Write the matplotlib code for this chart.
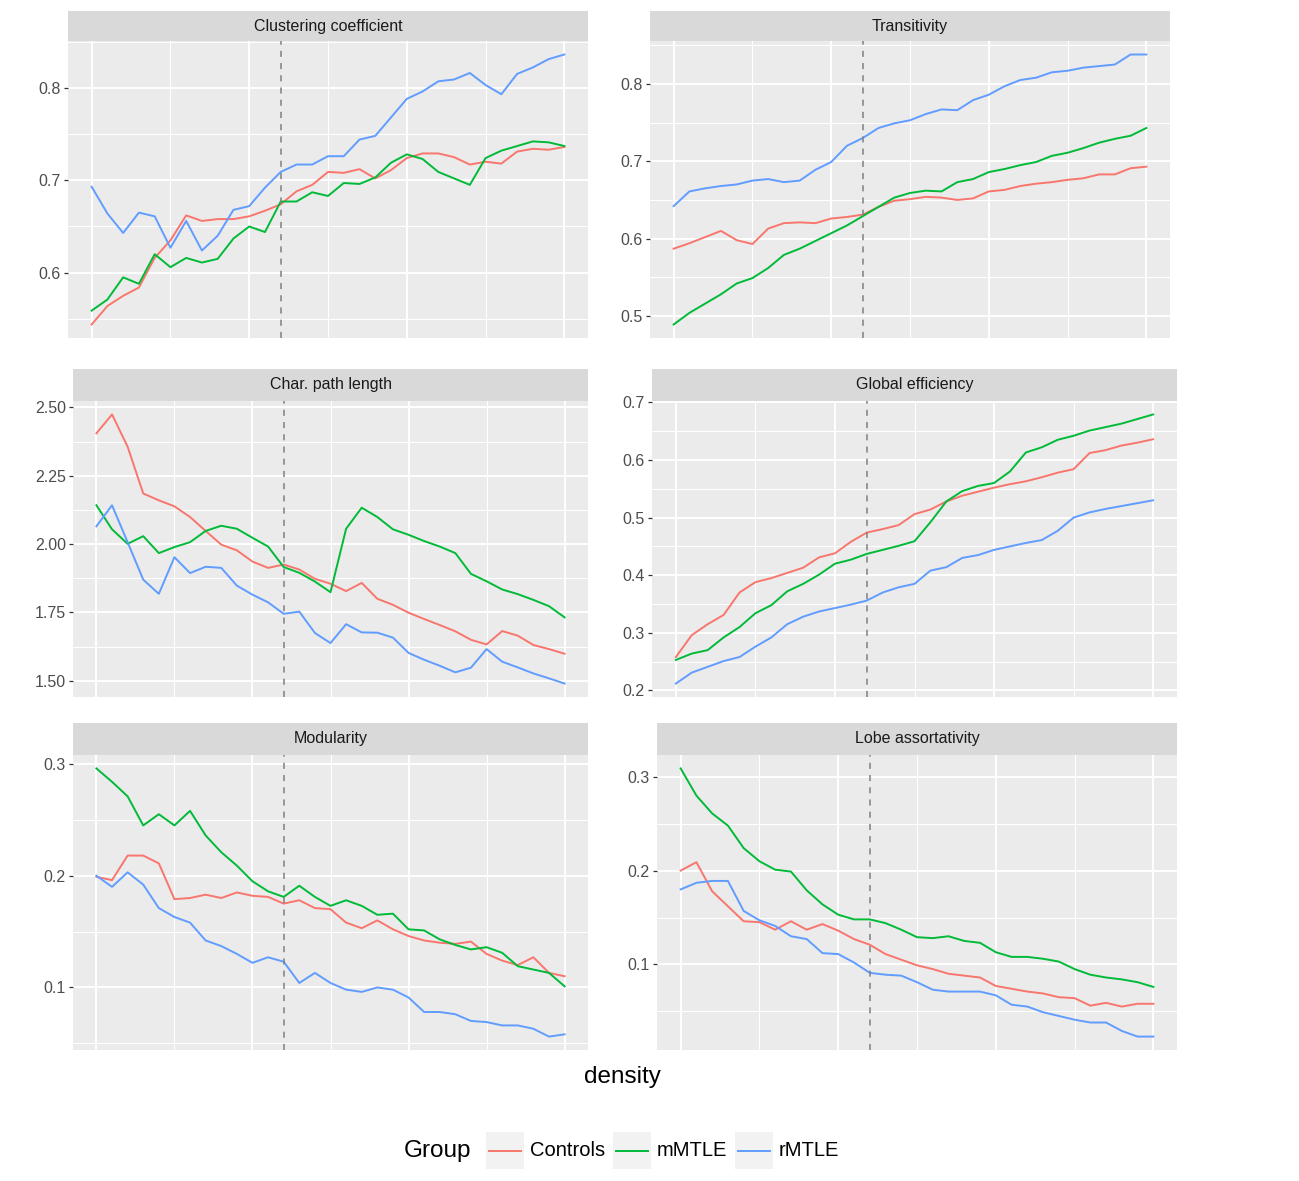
import matplotlib
matplotlib.use("Agg")
import matplotlib.pyplot as plt
from matplotlib.patches import Rectangle
from matplotlib.lines import Line2D
import numpy as np

plt.rcParams['font.family'] = ['Liberation Sans', 'DejaVu Sans']

# density steps (x axis has no labels in the original)
density = np.arange(31)
vline_at = 12

groups = ['Controls', 'mMTLE', 'rMTLE']
colors = {'Controls': '#F8766D', 'mMTLE': '#00BA38', 'rMTLE': '#619CFF'}

# ---- values ----
clust_controls = [0.544, 0.564, 0.575, 0.584, 0.616, 0.635, 0.662, 0.656, 0.658, 0.658, 0.661,
                  0.667, 0.674, 0.688, 0.695, 0.709, 0.708, 0.712, 0.702, 0.711, 0.724, 0.729,
                  0.729, 0.725, 0.717, 0.720, 0.718, 0.731, 0.734, 0.733, 0.736]
clust_mmtle = [0.559, 0.571, 0.595, 0.588, 0.620, 0.606, 0.616, 0.611, 0.615, 0.637, 0.650,
               0.644, 0.677, 0.677, 0.687, 0.683, 0.697, 0.696, 0.703, 0.719, 0.728, 0.723,
               0.709, 0.702, 0.695, 0.724, 0.732, 0.737, 0.742, 0.741, 0.737]
clust_rmtle = [0.693, 0.664, 0.643, 0.665, 0.661, 0.627, 0.656, 0.624, 0.640, 0.668, 0.672,
               0.692, 0.709, 0.717, 0.717, 0.726, 0.726, 0.744, 0.748, 0.768, 0.788, 0.796,
               0.807, 0.809, 0.816, 0.803, 0.793, 0.815, 0.822, 0.831, 0.836]

trans_controls = [0.587, 0.594, 0.602, 0.610, 0.598, 0.593, 0.613, 0.620, 0.621, 0.620, 0.626,
                  0.628, 0.631, 0.641, 0.649, 0.651, 0.654, 0.653, 0.650, 0.652, 0.661, 0.663,
                  0.668, 0.671, 0.673, 0.676, 0.678, 0.683, 0.683, 0.691, 0.693]
trans_mmtle = [0.489, 0.504, 0.516, 0.528, 0.542, 0.549, 0.562, 0.579, 0.587, 0.597, 0.607,
               0.617, 0.629, 0.641, 0.653, 0.659, 0.662, 0.661, 0.673, 0.677, 0.686, 0.690,
               0.695, 0.699, 0.707, 0.711, 0.717, 0.724, 0.729, 0.733, 0.743]
trans_rmtle = [0.642, 0.661, 0.665, 0.668, 0.670, 0.675, 0.677, 0.673, 0.675, 0.689, 0.699,
               0.720, 0.730, 0.743, 0.749, 0.753, 0.761, 0.767, 0.766, 0.779, 0.786, 0.797,
               0.805, 0.808, 0.815, 0.817, 0.821, 0.823, 0.825, 0.838, 0.838]

cpl_controls = [2.405, 2.474, 2.356, 2.185, 2.160, 2.138, 2.099, 2.048, 1.998, 1.977, 1.936,
                1.913, 1.925, 1.907, 1.873, 1.855, 1.828, 1.858, 1.800, 1.778, 1.749, 1.726,
                1.704, 1.681, 1.650, 1.633, 1.682, 1.665, 1.631, 1.616, 1.599]
cpl_mmtle = [2.142, 2.054, 2.001, 2.029, 1.967, 1.989, 2.007, 2.048, 2.067, 2.056, 2.023,
             1.991, 1.916, 1.895, 1.863, 1.824, 2.056, 2.133, 2.099, 2.054, 2.034, 2.011,
             1.991, 1.967, 1.891, 1.864, 1.834, 1.817, 1.796, 1.773, 1.732]
cpl_rmtle = [2.065, 2.142, 2.007, 1.870, 1.818, 1.952, 1.894, 1.917, 1.913, 1.848, 1.815,
             1.787, 1.745, 1.753, 1.675, 1.638, 1.707, 1.677, 1.676, 1.658, 1.602, 1.577,
             1.555, 1.531, 1.548, 1.616, 1.570, 1.549, 1.527, 1.509, 1.490]

geff_controls = [0.258, 0.296, 0.315, 0.331, 0.370, 0.388, 0.395, 0.404, 0.413, 0.431, 0.438,
                 0.458, 0.474, 0.480, 0.487, 0.506, 0.514, 0.528, 0.538, 0.545, 0.552, 0.558,
                 0.563, 0.570, 0.578, 0.584, 0.612, 0.617, 0.625, 0.630, 0.636]
geff_mmtle = [0.253, 0.264, 0.270, 0.292, 0.310, 0.334, 0.348, 0.372, 0.385, 0.401, 0.420,
              0.427, 0.437, 0.444, 0.451, 0.459, 0.492, 0.528, 0.546, 0.555, 0.560, 0.580,
              0.613, 0.622, 0.635, 0.642, 0.651, 0.657, 0.663, 0.671, 0.679]
geff_rmtle = [0.212, 0.231, 0.241, 0.251, 0.258, 0.276, 0.292, 0.315, 0.328, 0.337, 0.343,
              0.349, 0.356, 0.370, 0.379, 0.385, 0.408, 0.414, 0.430, 0.435, 0.444, 0.450,
              0.456, 0.461, 0.477, 0.500, 0.509, 0.515, 0.520, 0.525, 0.530]

mod_controls = [0.199, 0.196, 0.218, 0.218, 0.211, 0.179, 0.180, 0.183, 0.180, 0.185, 0.182,
                0.181, 0.175, 0.178, 0.171, 0.170, 0.158, 0.153, 0.160, 0.152, 0.146, 0.142,
                0.140, 0.139, 0.141, 0.130, 0.124, 0.120, 0.127, 0.113, 0.110]
mod_mmtle = [0.296, 0.284, 0.271, 0.245, 0.255, 0.245, 0.258, 0.236, 0.221, 0.209, 0.195,
             0.186, 0.181, 0.191, 0.181, 0.173, 0.178, 0.173, 0.165, 0.166, 0.152, 0.151,
             0.143, 0.138, 0.134, 0.136, 0.131, 0.119, 0.116, 0.113, 0.101]
mod_rmtle = [0.200, 0.190, 0.203, 0.192, 0.171, 0.163, 0.158, 0.142, 0.137, 0.130, 0.122,
             0.127, 0.123, 0.104, 0.113, 0.104, 0.098, 0.096, 0.100, 0.098, 0.091, 0.078,
             0.078, 0.076, 0.070, 0.069, 0.066, 0.066, 0.063, 0.056, 0.058]

lobe_controls = [0.200, 0.209, 0.178, 0.162, 0.146, 0.145, 0.137, 0.146, 0.137, 0.143, 0.136,
                 0.127, 0.121, 0.111, 0.105, 0.099, 0.095, 0.090, 0.088, 0.086, 0.077, 0.074,
                 0.071, 0.069, 0.065, 0.064, 0.056, 0.059, 0.055, 0.058, 0.058]
lobe_mmtle = [0.309, 0.280, 0.261, 0.248, 0.224, 0.210, 0.201, 0.199, 0.179, 0.164, 0.153,
              0.148, 0.148, 0.144, 0.137, 0.129, 0.128, 0.130, 0.125, 0.123, 0.113, 0.108,
              0.108, 0.106, 0.103, 0.095, 0.089, 0.086, 0.084, 0.081, 0.076]
lobe_rmtle = [0.180, 0.187, 0.189, 0.189, 0.157, 0.147, 0.141, 0.130, 0.127, 0.112, 0.111,
              0.102, 0.091, 0.089, 0.088, 0.081, 0.073, 0.071, 0.071, 0.071, 0.067, 0.057,
              0.055, 0.049, 0.045, 0.041, 0.038, 0.038, 0.029, 0.023, 0.023]

panels = [
    ('Clustering coefficient', [clust_controls, clust_mmtle, clust_rmtle],
     [0.6, 0.7, 0.8], ['0.6', '0.7', '0.8'], 0.1),
    ('Transitivity', [trans_controls, trans_mmtle, trans_rmtle],
     [0.5, 0.6, 0.7, 0.8], ['0.5', '0.6', '0.7', '0.8'], 0.1),
    ('Char. path length', [cpl_controls, cpl_mmtle, cpl_rmtle],
     [1.5, 1.75, 2.0, 2.25, 2.5], ['1.50', '1.75', '2.00', '2.25', '2.50'], 0.25),
    ('Global efficiency', [geff_controls, geff_mmtle, geff_rmtle],
     [0.2, 0.3, 0.4, 0.5, 0.6, 0.7], ['0.2', '0.3', '0.4', '0.5', '0.6', '0.7'], 0.1),
    ('Modularity', [mod_controls, mod_mmtle, mod_rmtle],
     [0.1, 0.2, 0.3], ['0.1', '0.2', '0.3'], 0.1),
    ('Lobe assortativity', [lobe_controls, lobe_mmtle, lobe_rmtle],
     [0.1, 0.2, 0.3], ['0.1', '0.2', '0.3'], 0.1),
]

# panel boxes in pixels: left, strip top, panel top, right, panel bottom
boxes = [
    (68, 11, 41, 588, 338), (650, 11, 41, 1170, 338),
    (73, 369, 401, 588, 697), (652, 369, 401, 1177, 697),
    (73, 723, 755, 588, 1050), (657, 723, 755, 1177, 1050),
]

W, H = 1299, 1181
fig = plt.figure(figsize=(W / 100, H / 100), dpi=100)
fig.patch.set_facecolor('white')

for (title, series, yt, ytl, step), (l, st, pt, r, pb) in zip(panels, boxes):
    ax = fig.add_axes([l / W, 1 - pb / H, (r - l) / W, (pb - pt) / H])
    ax.set_facecolor('#EBEBEB')
    for g, vals in zip(groups, series):
        ax.plot(density, vals, color=colors[g], lw=1.4, solid_joinstyle='round')
    ax.axvline(density[vline_at], color='#7F7F7F', lw=1.1, ls=(0, (4, 4)))
    ax.margins(x=0.05, y=0.05)
    ax.set_xticks([0, 10, 20, 30])
    ax.set_xticks([5, 15, 25], minor=True)
    ymin, ymax = ax.get_ylim()
    ax.set_yticks(yt)
    ax.set_yticklabels(ytl)
    minors = np.arange(yt[0] - step / 2, ymax, step)
    ax.set_yticks([m for m in minors if ymin <= m <= ymax], minor=True)
    ax.set_ylim(ymin, ymax)
    ax.grid(which='major', color='white', lw=1.4)
    ax.grid(which='minor', color='white', lw=0.75)
    ax.set_axisbelow(True)
    for s in ax.spines.values():
        s.set_visible(False)
    ax.tick_params(axis='x', which='both', length=0, labelbottom=False)
    ax.tick_params(axis='y', which='major', length=3.2, width=0.9, color='#333333',
                   labelcolor='#4D4D4D', labelsize=11.5, pad=2)
    ax.tick_params(axis='y', which='minor', length=0)

    sax = fig.add_axes([l / W, 1 - pt / H, (r - l) / W, (pt - st) / H])
    sax.set_facecolor('#D9D9D9')
    sax.set_xticks([])
    sax.set_yticks([])
    for s in sax.spines.values():
        s.set_visible(False)
    sax.text(0.5, 0.5, title, ha='center', va='center', fontsize=11.5, color='#1A1A1A',
             transform=sax.transAxes)

# overlay in pixel units for the shared axis title and legend
ov = fig.add_axes([0, 0, 1, 1], facecolor='none')
ov.set_xlim(0, W)
ov.set_ylim(H, 0)
ov.axis('off')
ov.text(622, 1077, 'density', ha='center', va='center', fontsize=17.5, color='black')

ov.text(404, 1151, 'Group', ha='left', va='center', fontsize=17.5, color='black')
key_left = [486, 613, 735]
for g, kx in zip(groups, key_left):
    ov.add_patch(Rectangle((kx, 1132), 38, 37, facecolor='#F2F2F2', edgecolor='none'))
    ov.add_line(Line2D([kx + 3, kx + 35], [1150.5, 1150.5], color=colors[g], lw=1.4))
    ov.text(kx + 44, 1151, g, ha='left', va='center', fontsize=14.5, color='black')

fig.savefig('out.png', dpi=100)
